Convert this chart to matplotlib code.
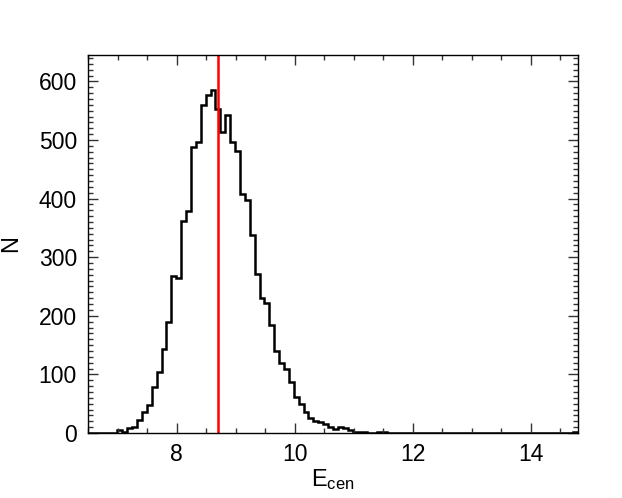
import numpy as np
import matplotlib
matplotlib.use("Agg")
import matplotlib.pyplot as plt
from matplotlib.ticker import MultipleLocator

plt.rcParams['font.family'] = ['Liberation Sans', 'DejaVu Sans']
plt.rcParams['mathtext.default'] = 'regular'

# histogram: 100 bins between 6.5 and 14.8
x_min, x_max, n_bins = 6.5, 14.8, 100
counts = [0, 0, 0, 0, 0, 0, 5, 2, 8, 11,
          22, 35, 48, 78, 104, 144, 190, 268, 265, 361,
          379, 488, 497, 560, 576, 585, 553, 513, 542, 497,
          482, 408, 398, 338, 272, 230, 221, 184, 140, 119,
          109, 87, 62, 49, 35, 26, 21, 18, 16, 11,
          6, 10, 9, 5, 2, 1, 1, 0, 0, 1,
          2, 0, 0, 0, 0, 0, 0, 0, 0, 0,
          0, 0, 0, 0, 0, 0, 0, 0, 0, 0,
          0, 0, 0, 0, 0, 0, 0, 0, 0, 0,
          0, 0, 0, 0, 0, 0, 0, 0, 0, 1]
ref_value = 8.71

edges = np.linspace(x_min, x_max, n_bins + 1)

fig = plt.figure(figsize=(6.22, 4.98), dpi=100)
ax = fig.add_axes([88/622, 65/498, 490/622, 378/498])

ax.stairs(counts, edges, color='black', lw=1.8, baseline=0)
ax.axvline(ref_value, color='#ff0000', lw=1.8)

ax.set_xlim(6.5, 14.8)
ax.set_ylim(0, 645)
ax.xaxis.set_major_locator(MultipleLocator(2))
ax.xaxis.set_minor_locator(MultipleLocator(0.5))
ax.yaxis.set_major_locator(MultipleLocator(100))
ax.yaxis.set_minor_locator(MultipleLocator(10))
ax.tick_params(which='both', direction='in', top=True, right=True,
               labelsize=16.5, width=1.0, color='#333333')
ax.tick_params(which='major', length=7.5)
ax.tick_params(which='minor', length=3.8)
ax.tick_params(axis='x', which='major', pad=7)
ax.tick_params(axis='y', which='major', pad=8)
for s in ax.spines.values():
    s.set_linewidth(1.0)

ax.set_xlabel(r'$E_{cen}$', fontsize=17, labelpad=1)
ax.set_ylabel('N', fontsize=17, labelpad=12)

fig.savefig('out.png', dpi=100)
